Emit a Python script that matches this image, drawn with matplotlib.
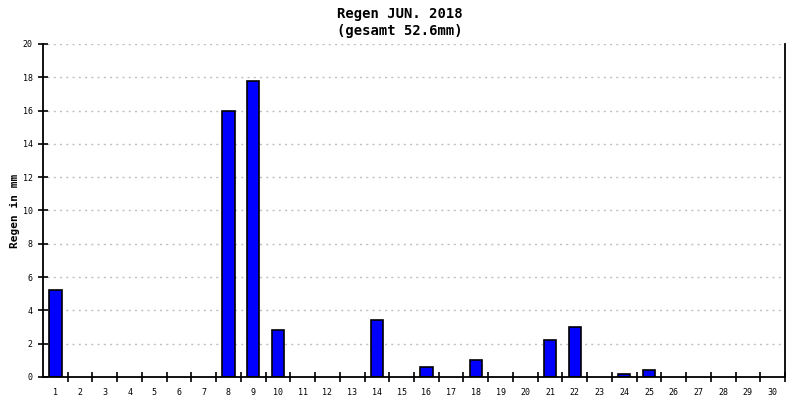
import matplotlib.pyplot as plt
import numpy as np

days = list(range(1, 31))
rain = [5.2, 0, 0, 0, 0, 0, 0, 16.0, 17.8, 2.8,
        0, 0, 0, 3.4, 0, 0.6, 0, 1.0, 0, 0,
        2.2, 3.0, 0, 0.2, 0.4, 0, 0, 0, 0, 0]
yticks = [0, 2, 4, 6, 8, 10, 12, 14, 16, 18, 20]
total = sum(rain)

mono = 'DejaVu Sans Mono'

fig = plt.figure(figsize=(8, 4), dpi=100)
ax = fig.add_axes([43 / 800, 1 - 377 / 400, 742 / 800, 333 / 400])

# grid first so bars cover it
for y in yticks[1:]:
    ax.axhline(y, xmin=0.006, color='#c0c0c0', linestyle=(0, (1.5, 3)),
               linewidth=1.0, zorder=0)

nz = [(d, r) for d, r in zip(days, rain) if r > 0]
ax.bar([d for d, r in nz], [r for d, r in nz], width=0.5, color='#0000ff',
       edgecolor='black', linewidth=1.2, zorder=2)

ax.set_xlim(0.5, 30.5)
ax.set_ylim(0, 20)
ax.spines['top'].set_visible(False)
for s in ['left', 'bottom', 'right']:
    ax.spines[s].set_linewidth(1.3)

ax.set_xticks(days)
ax.set_xticklabels([str(d) for d in days], fontsize=6, family=mono)
ax.tick_params(axis='x', which='major', length=0, pad=8)
ax.set_xticks(np.arange(1.5, 31, 1), minor=True)
ax.tick_params(axis='x', which='minor', length=7, width=1.2, direction='inout')

ax.set_yticks(yticks)
ax.set_yticklabels([str(y) for y in yticks], fontsize=6, family=mono)
ax.tick_params(axis='y', which='major', length=7, width=1.2, direction='inout', pad=4)
ax.tick_params(axis='y', which='minor', length=0)

ax.set_ylabel('Regen in mm', fontsize=8, fontweight='bold', family=mono, labelpad=2)

fig.text(0.5, 0.965, 'Regen JUN. 2018', ha='center', va='center',
         fontsize=10, fontweight='bold', family=mono)
fig.text(0.5, 0.922, '(gesamt %.1fmm)' % total, ha='center', va='center',
         fontsize=10, fontweight='bold', family=mono)

fig.savefig('out.png', dpi=100)
